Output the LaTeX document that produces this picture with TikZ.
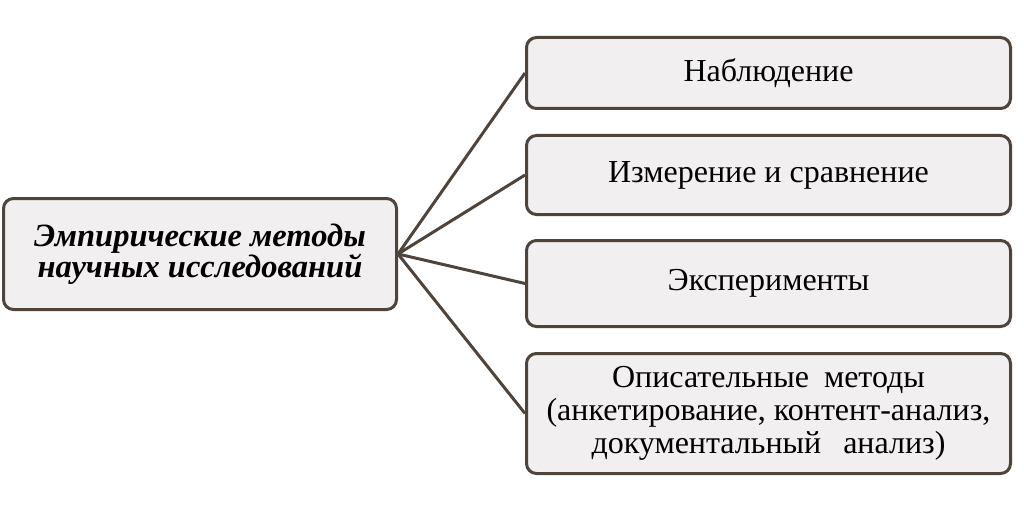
\documentclass[tikz,border=0pt]{standalone}
\usepackage{fontspec}
\setmainfont{Liberation Serif}
\definecolor{boxfill}{HTML}{F1EFF0}
\definecolor{boxline}{HTML}{4F443C}
\begin{document}
\begin{tikzpicture}[x=1pt,y=-1pt,
  box/.style={draw=boxline,fill=boxfill,line width=3pt,rounded corners=10pt,
    align=center,inner sep=0pt,font=\fontsize{32}{33}\selectfont},
  link/.style={draw=boxline,line width=3pt}]
\useasboundingbox (0,0) rectangle (1024,513);
\node[box,minimum width=393pt,minimum height=111pt,font=\fontsize{32.5}{31}\selectfont\bfseries\itshape] (main) at (200,254) {Эмпирические методы\\научных исследований};
\node[box,minimum width=484pt,minimum height=71pt] (a) at (768.5,73) {Наблюдение};
\node[box,minimum width=484pt,minimum height=79pt] (b) at (768.5,175) {Измерение и сравнение};
\node[box,minimum width=484pt,minimum height=86pt] (c) at (768.5,283.5) {Эксперименты};
\node[box,minimum width=484pt,minimum height=120pt] (d) at (768.5,413.5) {Описательные\hspace{7pt} методы\\(анкетирование, контент-анализ,\\документальный\hspace{14pt} анализ)};
\foreach \t in {a,b,c,d} \draw[link] (main.east) -- (\t.west);
\end{tikzpicture}
\end{document}
